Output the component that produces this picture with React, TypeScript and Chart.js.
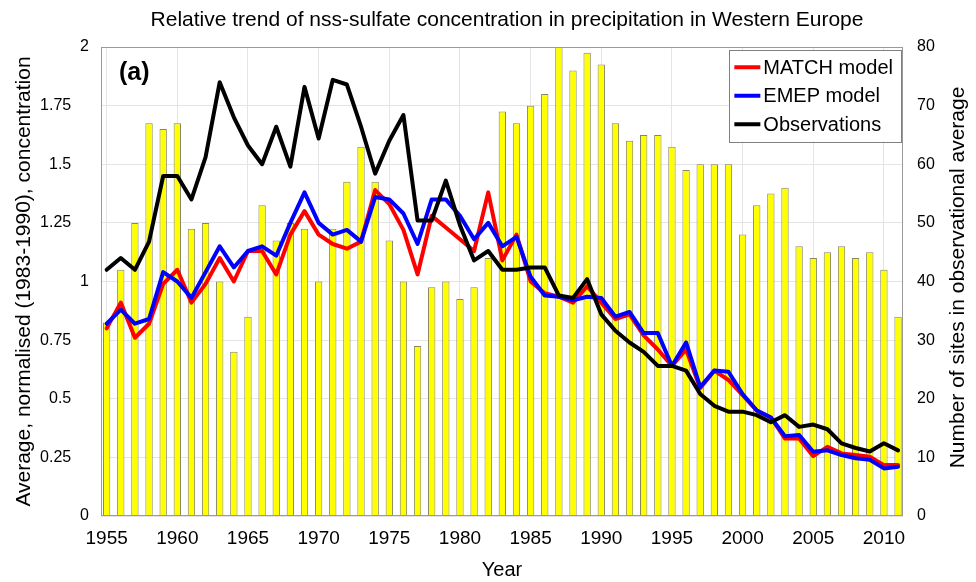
import { useEffect, useRef } from 'react';
import { Chart, registerables } from 'chart.js';

Chart.register(...registerables);

const FONT = "'Liberation Sans', Arial, Helvetica, sans-serif";

const chartTitle = 'Relative trend of nss-sulfate concentration in precipitation in Western Europe';
const xTitle = 'Year';
const leftTitle = 'Average, normalised (1983-1990), concentration';
const rightTitle = 'Number of sites in observational average';
const panelLabel = '(a)';

const years = [
  1955, 1956, 1957, 1958, 1959, 1960, 1961, 1962, 1963, 1964,
  1965, 1966, 1967, 1968, 1969, 1970, 1971, 1972, 1973, 1974,
  1975, 1976, 1977, 1978, 1979, 1980, 1981, 1982, 1983, 1984,
  1985, 1986, 1987, 1988, 1989, 1990, 1991, 1992, 1993, 1994,
  1995, 1996, 1997, 1998, 1999, 2000, 2001, 2002, 2003, 2004,
  2005, 2006, 2007, 2008, 2009, 2010, 2011,
];

const sites = [
  33, 42, 50, 67, 66, 67, 49, 50, 40, 28,
  34, 53, 47, 50, 49, 40, 49, 57, 63, 57,
  47, 40, 29, 39, 40, 37, 39, 44, 69, 67,
  70, 72, 80, 76, 79, 77, 67, 64, 65, 65,
  63, 59, 60, 60, 60, 48, 53, 55, 56, 46,
  44, 45, 46, 44, 45, 42, 34,
];

const matchModel = [
  0.80, 0.91, 0.76, 0.82, 0.99, 1.05, 0.91, 0.99, 1.10, 1.00,
  1.13, 1.13, 1.03, 1.20, 1.30, 1.20, 1.16, 1.14, 1.17, 1.39,
  1.33, 1.22, 1.03, 1.28, 1.23, 1.18, 1.13, 1.38, 1.09, 1.20,
  1.00, 0.95, 0.935, 0.91, 0.98, 0.91, 0.84, 0.86, 0.77, 0.71,
  0.64, 0.71, 0.545, 0.62, 0.58, 0.515, 0.45, 0.42, 0.33, 0.33,
  0.255, 0.295, 0.267, 0.26, 0.253, 0.217, 0.217,
];

const emepModel = [
  0.82, 0.88, 0.82, 0.84, 1.04, 1.00, 0.93, 1.04, 1.15, 1.06,
  1.13, 1.15, 1.11, 1.25, 1.38, 1.25, 1.20, 1.22, 1.17, 1.36,
  1.35, 1.29, 1.16, 1.35, 1.35, 1.28, 1.18, 1.25, 1.15, 1.19,
  1.02, 0.94, 0.935, 0.92, 0.935, 0.93, 0.85, 0.87, 0.78, 0.78,
  0.64, 0.74, 0.55, 0.62, 0.615, 0.52, 0.45, 0.42, 0.34, 0.345,
  0.274, 0.28, 0.26, 0.246, 0.24, 0.203, 0.21,
];

const observations = [
  1.05, 1.10, 1.05, 1.17, 1.45, 1.45, 1.35, 1.53, 1.85, 1.70,
  1.58, 1.50, 1.66, 1.49, 1.83, 1.61, 1.86, 1.84, 1.66, 1.46,
  1.60, 1.71, 1.26, 1.26, 1.43, 1.24, 1.09, 1.13, 1.05, 1.05,
  1.06, 1.06, 0.94, 0.93, 1.01, 0.86, 0.79, 0.74, 0.70, 0.64,
  0.64, 0.62, 0.52, 0.47, 0.445, 0.445, 0.43, 0.40, 0.43, 0.38,
  0.39, 0.37, 0.31, 0.29, 0.275, 0.31, 0.28,
];

const seriesLabels = ['MATCH model', 'EMEP model', 'Observations'];
const seriesColors = ['#ff0000', '#0000ff', '#000000'];

const toPoints = (vals: number[]) => years.map((yr, i) => ({ x: yr, y: vals[i] }));

const overlayPlugin = {
  id: 'overlay',
  afterDraw(chart: any) {
    const { ctx, chartArea: a } = chart;
    ctx.save();
    // frame
    ctx.strokeStyle = '#9a9a9a';
    ctx.lineWidth = 1;
    ctx.strokeRect(a.left + 0.5, a.top + 0.5, a.right - a.left - 1, a.bottom - a.top - 1);

    // chart title, centred over the plot area
    ctx.fillStyle = '#000';
    ctx.font = `21px ${FONT}`;
    ctx.textAlign = 'center';
    ctx.textBaseline = 'middle';
    ctx.fillText(chartTitle, (a.left + a.right) / 2 + 5, 20);

    // panel label
    ctx.font = `bold 25px ${FONT}`;
    ctx.textAlign = 'left';
    ctx.fillText(panelLabel, a.left + 18, a.top + 26);

    // legend
    const lines = chart.data.datasets.filter((d: any) => d.type === 'line');
    ctx.font = `20px ${FONT}`;
    let maxW = 0;
    lines.forEach((d: any) => { maxW = Math.max(maxW, ctx.measureText(d.label).width); });
    const rowH = 28.5;
    const boxW = 5 + 26 + 3 + maxW + 8;
    const boxH = lines.length * rowH + 6;
    const bx = a.right - 2 - boxW;
    const by = a.top + 3;
    ctx.fillStyle = '#fff';
    ctx.fillRect(bx, by, boxW, boxH);
    ctx.strokeStyle = '#808080';
    ctx.lineWidth = 1;
    ctx.strokeRect(Math.round(bx) + 0.5, Math.round(by) + 0.5, Math.round(boxW), Math.round(boxH));
    lines.forEach((d: any, i: number) => {
      const cy = by + 3 + rowH / 2 + i * rowH;
      ctx.strokeStyle = d.borderColor;
      ctx.lineWidth = 4;
      ctx.beginPath();
      ctx.moveTo(bx + 5, cy);
      ctx.lineTo(bx + 31, cy);
      ctx.stroke();
      ctx.fillStyle = '#000';
      ctx.textAlign = 'left';
      ctx.textBaseline = 'middle';
      ctx.fillText(d.label, bx + 34, cy + 1);
    });

    // right axis title (reads bottom to top)
    ctx.translate(958, (a.top + a.bottom) / 2 - 4);
    ctx.rotate(-Math.PI / 2);
    ctx.font = `21px ${FONT}`;
    ctx.fillStyle = '#000';
    ctx.textAlign = 'center';
    ctx.textBaseline = 'middle';
    ctx.fillText(rightTitle, 0, 0);
    ctx.restore();
  },
};

export default function App() {
  const ref = useRef<HTMLCanvasElement | null>(null);

  useEffect(() => {
    if (!ref.current) return;
    const gridColor = '#e4e4e4';
    const lineBase = {
      type: 'line',
      borderWidth: 4,
      pointRadius: 0,
      borderJoinStyle: 'round',
      borderCapStyle: 'round',
      yAxisID: 'y',
    };
    const chart = new Chart(ref.current, {
      data: {
        datasets: [
          {
            ...lineBase,
            label: seriesLabels[0],
            data: toPoints(matchModel),
            borderColor: seriesColors[0],
            backgroundColor: seriesColors[0],
            order: 3,
          },
          {
            ...lineBase,
            label: seriesLabels[1],
            data: toPoints(emepModel),
            borderColor: seriesColors[1],
            backgroundColor: seriesColors[1],
            order: 2,
          },
          {
            ...lineBase,
            label: seriesLabels[2],
            data: toPoints(observations),
            borderColor: seriesColors[2],
            backgroundColor: seriesColors[2],
            order: 1,
          },
          {
            type: 'bar',
            label: 'Sites',
            data: toPoints(sites),
            backgroundColor: '#ffff00',
            borderColor: 'rgb(135,135,95)',
            borderWidth: 1,
            barPercentage: 0.52,
            categoryPercentage: 1,
            yAxisID: 'y2',
            order: 10,
          },
        ] as any,
      },
      options: {
        responsive: false,
        animation: false,
        events: [],
        layout: { padding: { top: 47 } },
        plugins: {
          legend: { display: false },
          tooltip: { enabled: false },
          title: { display: false },
        },
        scales: {
          x: {
            type: 'linear',
            min: 1954.6,
            max: 2011.35,
            offset: false,
            border: { display: false },
            grid: { color: gridColor, drawTicks: false, offset: false },
            ticks: {
              stepSize: 5,
              includeBounds: false,
              autoSkip: false,
              maxRotation: 0,
              color: '#000',
              padding: 11,
              font: { family: FONT, size: 19 },
              callback: (v: any) => String(v),
            },
            title: {
              display: true,
              text: xTitle,
              color: '#000',
              font: { family: FONT, size: 20 },
              padding: { top: 0, bottom: 0 },
            },
            afterFit: (s: any) => { s.height = 66; },
          },
          y: {
            type: 'linear',
            position: 'left',
            min: 0,
            max: 2,
            border: { display: false },
            grid: { color: gridColor, drawTicks: false },
            ticks: {
              stepSize: 0.25,
              color: '#000',
              padding: 12,
              font: { family: FONT, size: 16 },
              callback: (v: any) => (Number.isInteger(v) ? String(v) : String(v) + '    '),
            },
            title: {
              display: true,
              text: leftTitle,
              color: '#000',
              font: { family: FONT, size: 21 },
              padding: { top: 12, bottom: 0 },
            },
            afterFit: (s: any) => { s.width = 101; },
          },
          y2: {
            type: 'linear',
            position: 'right',
            min: 0,
            max: 80,
            border: { display: false },
            grid: { display: false, drawTicks: false },
            ticks: {
              stepSize: 10,
              color: '#000',
              padding: 14,
              font: { family: FONT, size: 16 },
              callback: (v: any) => String(v),
            },
            afterFit: (s: any) => { s.width = 73; },
          },
        },
      } as any,
      plugins: [overlayPlugin],
    });
    return () => chart.destroy();
  }, []);

  return (
    <div style={{ position: 'absolute', left: 0, top: 0, width: 976, height: 582, background: '#fff' }}>
      <canvas ref={ref} width={976} height={582} />
    </div>
  );
}
